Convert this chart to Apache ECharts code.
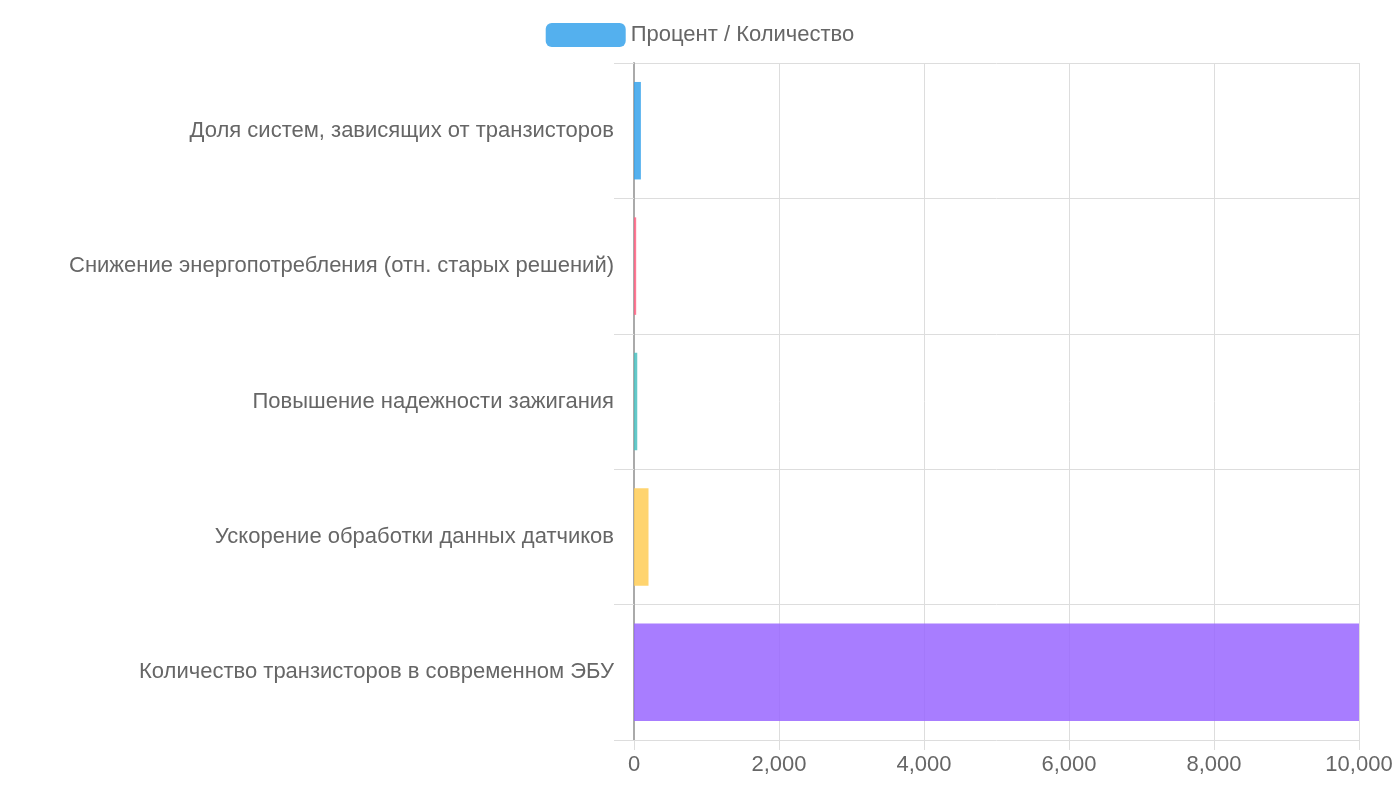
<!DOCTYPE html>
<html><head><meta charset="utf-8">
<script src="https://cdn.jsdelivr.net/npm/echarts@6/dist/echarts.min.js"></script>
<style>html,body{margin:0;padding:0;background:#fff}#c{width:1400px;height:800px}</style>
</head><body><div id="c"></div>
<script>
const categories = ["Доля систем, зависящих от транзисторов","Снижение энергопотребления (отн. старых решений)","Повышение надежности зажигания","Ускорение обработки данных датчиков","Количество транзисторов в современном ЭБУ"];
const values = [95, 30, 45, 200, 10000];
const colors = ["rgba(54,162,235,0.85)","rgba(255,99,132,0.85)","rgba(75,192,192,0.85)","rgba(255,205,86,0.85)","rgba(153,102,255,0.85)"];
const chart = echarts.init(document.getElementById('c'));
chart.setOption({
  animation:false,
  textStyle:{fontFamily:'Liberation Sans, Arial, sans-serif'},
  legend:{top:18,left:'center',itemWidth:80,itemHeight:24,textStyle:{fontSize:22,color:'#666'},data:['Процент / Количество']},
  grid:{left:634,right:41,top:63,bottom:60,containLabel:false},
  xAxis:{type:'value',min:0,max:10000,interval:2000,
    axisLine:{show:false},axisTick:{show:true,length:10,lineStyle:{color:'#ddd'}},
    axisLabel:{fontSize:22,color:'#666',margin:14},
    splitLine:{lineStyle:{color:'#ddd'}}},
  yAxis:{type:'category',inverse:true,data:categories,
    axisLine:{show:true,lineStyle:{color:'#aaa',width:2}},
    axisTick:{show:true,length:20,lineStyle:{color:'#ddd'}},
    axisLabel:{fontSize:22,color:'#666',margin:20},
    splitLine:{show:true,lineStyle:{color:'#ddd'}}},
  series:[{name:'Процент / Количество',type:'bar',barWidth:'72%',
    itemStyle:{color:p=>colors[p.dataIndex]},
    data:values}],
  color:['rgba(54,162,235,0.85)']
});
</script></body></html>
